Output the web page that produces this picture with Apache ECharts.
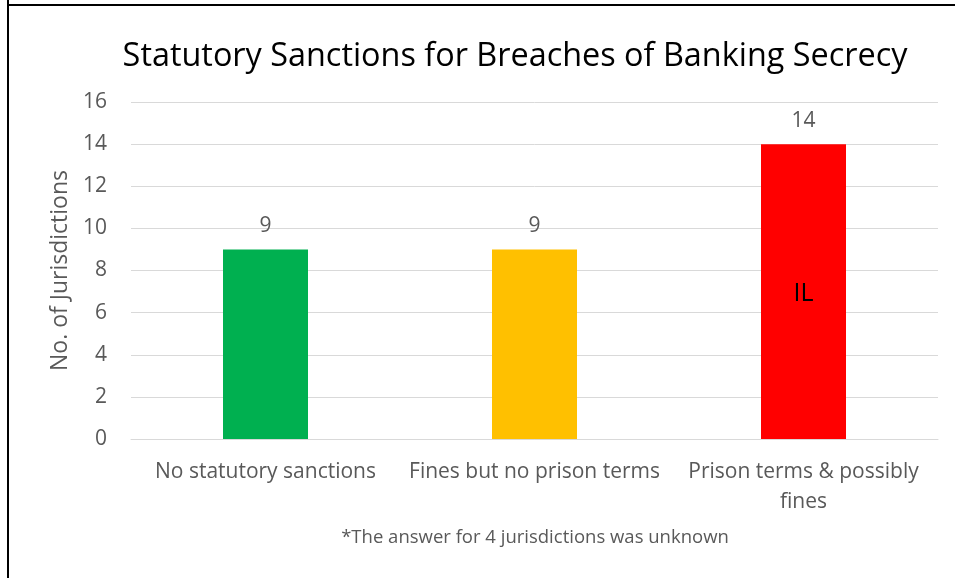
<!DOCTYPE html>
<html>
<head>
<meta charset="utf-8">
<script src="https://cdn.jsdelivr.net/npm/echarts@6/dist/echarts.min.js"></script>
<style>
html,body{margin:0;padding:0;background:#fff;}
#chart{width:959px;height:578px;}
</style>
</head>
<body>
<div id="chart"></div>
<script>
const categories = ['No statutory sanctions', 'Fines but no prison terms', 'Prison terms & possibly\nfines'];
const values = [9, 9, 14];
const barColors = ['#00B050', '#FFC000', '#FF0000'];
const innerLabels = ['', '', 'IL'];
const yTicks = [0, 2, 4, 6, 8, 10, 12, 14, 16];
const titleText = 'Statutory Sanctions for Breaches of Banking Secrecy';
const yAxisName = 'No. of Jurisdictions';
const footnote = '*The answer for 4 jurisdictions was unknown';

const FONT = '"Open Sans", sans-serif';
const chart = echarts.init(document.getElementById('chart'));
chart.setOption({
  animation: false,
  backgroundColor: '#fff',
  title: {
    text: titleText,
    left: 510,
    textAlign: 'center',
    top: 36,
    textStyle: { fontFamily: FONT, fontSize: 32.4, fontWeight: 'normal', color: '#000' }
  },
  grid: { left: 131, right: 21, top: 102, bottom: 139 },
  xAxis: {
    type: 'category',
    data: categories,
    axisLine: { show: true, lineStyle: { color: '#D9D9D9', width: 1 } },
    axisTick: { show: false },
    axisLabel: {
      interval: 0,
      fontFamily: FONT, fontSize: 21, color: '#595959', margin: 18,
      lineHeight: 30
    }
  },
  yAxis: {
    type: 'value',
    min: yTicks[0],
    max: yTicks[yTicks.length - 1],
    interval: 2,
    name: yAxisName,
    nameLocation: 'middle',
    nameGap: 59,
    nameTextStyle: { fontFamily: FONT, fontSize: 23, color: '#595959' },
    axisLine: { show: false },
    axisTick: { show: false },
    axisLabel: { fontFamily: FONT, fontSize: 21, color: '#595959', margin: 24 },
    splitLine: { lineStyle: { color: '#D9D9D9', width: 1 } }
  },
  series: [
    {
      type: 'bar',
      barWidth: 85,
      data: values.map((v, i) => ({ value: v, itemStyle: { color: barColors[i] } })),
      label: {
        show: true, position: 'top', distance: 13,
        fontFamily: FONT, fontSize: 21, color: '#595959'
      }
    },
    {
      type: 'bar',
      barWidth: 85,
      barGap: '-100%',
      silent: true,
      data: values.map((v) => ({ value: v, itemStyle: { color: 'rgba(0,0,0,0)' } })),
      label: {
        show: true, position: 'inside', offset: [0, 2],
        formatter: (p) => innerLabels[p.dataIndex],
        fontFamily: FONT, fontSize: 25, color: '#000'
      }
    }
  ],
  graphic: [
    { type: 'line', shape: { x1: 8, y1: 0, x2: 8, y2: 578 }, style: { stroke: '#000', lineWidth: 2 } },
    { type: 'line', shape: { x1: 7, y1: 5, x2: 955, y2: 5 }, style: { stroke: '#000', lineWidth: 2 } },
    {
      type: 'text', x: 535, y: 538,
      style: { text: footnote, fontFamily: FONT, fontSize: 18.5, fill: '#595959', textAlign: 'center', textVerticalAlign: 'middle' }
    }
  ]
});
</script>
</body>
</html>
